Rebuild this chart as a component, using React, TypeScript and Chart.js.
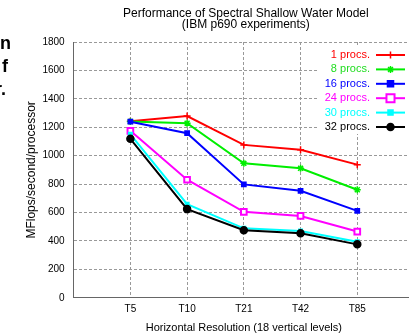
import React, { useEffect, useRef } from "react";
import { Chart, registerables } from "chart.js";

Chart.register(...registerables);

const titleLines = ["Performance of Spectral Shallow Water Model", "(IBM p690 experiments)"];
const xTitle = "Horizontal Resolution (18 vertical levels)";
const yTitle = "MFlops/second/processor";
const categories = ["T5", "T10", "T21", "T42", "T85"];
const seriesNames = ["1 procs.", "8 procs.", "16 procs.", "24 procs.", "30 procs.", "32 procs."];
const procs1 = [1243, 1279, 1076, 1041, 937];
const procs8 = [1240, 1229, 946, 911, 760];
const procs16 = [1239, 1158, 798, 753, 612];
const procs24 = [1175, 831, 605, 576, 466];
const procs30 = [1150, 659, 489, 470, 395];
const procs32 = [1119, 624, 475, 454, 376];
const yTicks = [0, 200, 400, 600, 800, 1000, 1200, 1400, 1600, 1800];

const seriesValues = [procs1, procs8, procs16, procs24, procs30, procs32];
const colors = ["#ff0000", "#00ee00", "#0000ff", "#ff00ff", "#00ffff", "#000000"];
const textColors = ["#ff0000", "#22dd22", "#0000ff", "#ff00ff", "#00ffff", "#000000"];
const pointStyles = ["cross", "star", "rect", "rect", "rect", "circle"];
const pointRadii = [3.5, 3.5, 3, 4, 2.5, 3.5];
const pointFills = ["#ff0000", "#00ee00", "#0000ff", "#ffffff", "#00ffff", "#000000"];

const FONT = "'Liberation Sans', Arial, Helvetica, sans-serif";

function drawMarker(ctx: CanvasRenderingContext2D, style: string, r: number, x: number, y: number) {
  ctx.beginPath();
  if (style === "circle") {
    ctx.arc(x, y, r, 0, Math.PI * 2);
    ctx.fill();
    ctx.stroke();
  } else if (style === "rect") {
    const s = r / Math.SQRT2 + r * 0.3;
    ctx.rect(x - s, y - s, 2 * s, 2 * s);
    ctx.fill();
    ctx.stroke();
  } else if (style === "cross") {
    ctx.moveTo(x, y - r);
    ctx.lineTo(x, y + r);
    ctx.moveTo(x - r, y);
    ctx.lineTo(x + r, y);
    ctx.stroke();
  } else {
    ctx.moveTo(x, y - r);
    ctx.lineTo(x, y + r);
    ctx.moveTo(x - r, y);
    ctx.lineTo(x + r, y);
    const d = r * 0.7;
    ctx.moveTo(x - d, y - d);
    ctx.lineTo(x + d, y + d);
    ctx.moveTo(x + d, y - d);
    ctx.lineTo(x - d, y + d);
    ctx.stroke();
  }
}

const titlePlugin = {
  id: "customTitle",
  afterDraw(chart: any) {
    const { ctx, chartArea } = chart;
    const cx = (chartArea.left + chartArea.right) / 2 + 2;
    ctx.save();
    ctx.fillStyle = "#000";
    ctx.font = `12px ${FONT}`;
    ctx.textAlign = "center";
    ctx.textBaseline = "alphabetic";
    ctx.fillText(titleLines[0], cx, 17);
    ctx.fillText(titleLines[1], cx, 28);
    ctx.restore();
  },
};

const legendPlugin = {
  id: "insideLegend",
  afterDraw(chart: any) {
    const { ctx, chartArea } = chart;
    const textRight = chartArea.right - 44;
    const lx1 = chartArea.right - 38;
    const lx2 = chartArea.right - 9;
    ctx.save();
    ctx.fillStyle = "#ffffff";
    ctx.fillRect(chartArea.right - 96, chartArea.top + 5, 96, 87);
    ctx.font = `11px ${FONT}`;
    ctx.textAlign = "right";
    ctx.textBaseline = "middle";
    chart.data.datasets.forEach((ds: any, i: number) => {
      const y = chartArea.top + 13 + i * 14.4;
      ctx.fillStyle = textColors[i];
      ctx.fillText(ds.label, textRight, y);
      ctx.strokeStyle = ds.borderColor;
      ctx.lineWidth = 2;
      ctx.beginPath();
      ctx.moveTo(lx1, y);
      ctx.lineTo(lx2, y);
      ctx.stroke();
      ctx.fillStyle = ds.pointBackgroundColor;
      ctx.strokeStyle = ds.pointBorderColor;
      ctx.lineWidth = ds.pointBorderWidth;
      drawMarker(ctx, ds.pointStyle, ds.pointRadius, (lx1 + lx2) / 2, y);
    });
    ctx.restore();
  },
};

export default function App() {
  const ref = useRef<HTMLCanvasElement | null>(null);
  useEffect(() => {
    if (!ref.current) return;
    Chart.defaults.font.family = FONT;
    const datasets = seriesValues.map((vals, i) => ({
      label: seriesNames[i],
      data: vals.map((v, j) => ({ x: j + 1, y: v })),
      borderColor: colors[i],
      backgroundColor: colors[i],
      borderWidth: 2,
      pointStyle: pointStyles[i],
      pointRadius: pointRadii[i],
      pointBackgroundColor: pointFills[i],
      pointBorderColor: colors[i],
      pointBorderWidth: i === 3 ? 2 : 1.5,
      tension: 0,
      order: seriesValues.length - i,
    }));
    const chart = new Chart(ref.current, {
      type: "line",
      data: { datasets },
      options: {
        animation: false,
        responsive: false,
        events: [],
        layout: { padding: { top: 42, left: 12, right: 6, bottom: 0 } },
        plugins: { legend: { display: false }, title: { display: false }, tooltip: { enabled: false } },
        scales: {
          x: {
            type: "linear",
            min: 0,
            max: categories.length + 1,
            afterBuildTicks: (scale: any) => {
              scale.ticks = categories.map((_, i) => ({ value: i + 1 }));
            },
            ticks: {
              color: "#000",
              font: { size: 10 },
              padding: 5,
              maxRotation: 0,
              callback: (v: any) => categories[Math.round(v) - 1] ?? "",
            },
            grid: { color: "#999", drawTicks: false, lineWidth: 1 },
            border: { display: true, color: "#666", width: 1, dash: [3, 2] },
            title: { display: true, text: xTitle, color: "#000", font: { size: 11 }, padding: { top: 2, bottom: 0 } },
          },
          y: {
            min: 0,
            max: 1800,
            afterBuildTicks: (scale: any) => {
              scale.ticks = yTicks.map((v) => ({ value: v }));
            },
            ticks: { color: "#000", font: { size: 10 }, padding: 9, callback: (v: any) => String(v) },
            grid: { color: "#999", drawTicks: false, lineWidth: 1 },
            border: { display: true, color: "#666", width: 1, dash: [3, 2] },
            title: { display: true, text: yTitle, color: "#000", font: { size: 12 }, padding: { top: 12, bottom: -5 } },
          },
        },
      },
      plugins: [titlePlugin, legendPlugin],
    } as any);
    return () => chart.destroy();
  }, []);
  const frag: React.CSSProperties = {
    position: "absolute",
    fontFamily: FONT,
    fontWeight: "bold",
    fontSize: 18,
    color: "#000",
    lineHeight: "1",
  };
  return (
    <div style={{ position: "fixed", left: 0, top: 0, width: 409, height: 335, overflow: "hidden", background: "#fff" }}>
      <canvas ref={ref} width={420} height={335} style={{ position: "absolute", left: 0, top: 0, width: 420, height: 335 }} />
      <span style={{ ...frag, left: 0, top: 34 }}>n</span>
      <span style={{ ...frag, left: 2, top: 57 }}>f</span>
      <span style={{ ...frag, left: -5, top: 80 }}>r.</span>
    </div>
  );
}
